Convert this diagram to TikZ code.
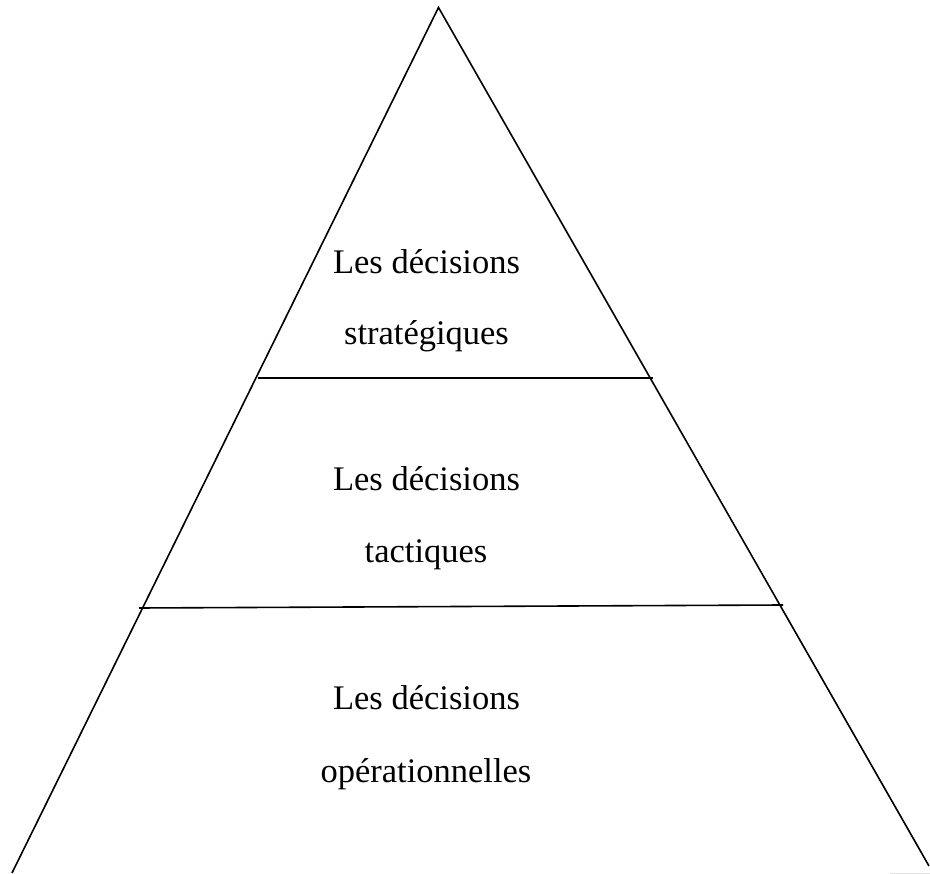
\documentclass[tikz,border=0pt]{standalone}
\usepackage{fontspec}
\setmainfont{Liberation Serif}
\begin{document}
\begin{tikzpicture}[x=1pt,y=-1pt,
  edge/.style={line width=1.6pt,black},
  lbl/.style={anchor=base,inner sep=0pt,font=\fontsize{34.5}{40}\selectfont}]
\useasboundingbox (0,0) rectangle (930,874);
\coordinate (A) at (438.5,7.5);
\coordinate (BL) at (12,873);
\coordinate (BR) at (929,866);
\coordinate (L1a) at (258,378);
\coordinate (L1b) at (653,378);
\coordinate (L2a) at (139,608);
\coordinate (L2b) at (783,605);
\draw[edge] (BL) -- (A) -- (BR);
\draw[edge] (L1a) -- (L1b);
\draw[edge] (L2a) -- (L2b);
\draw[line width=1pt,black!12] (890,873) -- (930,873);
\node[lbl] (s1) at (426.5,274) {Les décisions};
\node[lbl] (s2) at (426.5,345) {stratégiques};
\node[lbl] (t1) at (426.5,491) {Les décisions};
\node[lbl] (t2) at (426,563) {tactiques};
\node[lbl] (o1) at (426.5,709) {Les décisions};
\node[lbl] (o2) at (426,782) {opérationnelles};
\end{tikzpicture}
\end{document}
